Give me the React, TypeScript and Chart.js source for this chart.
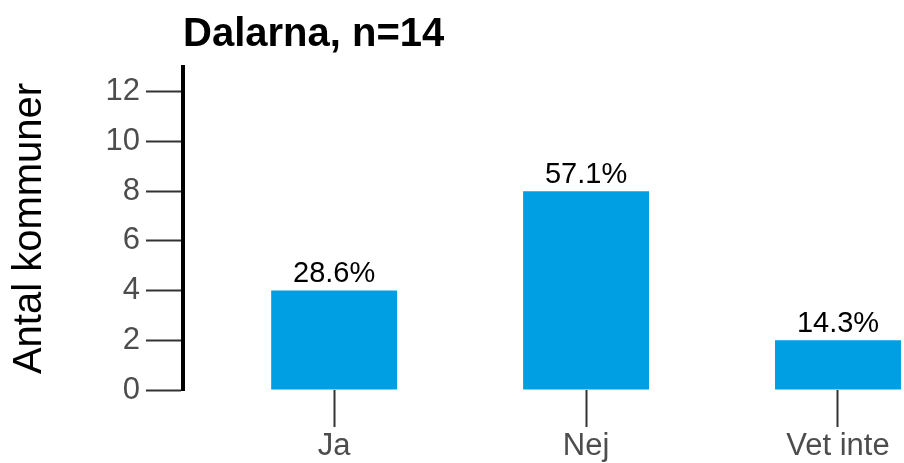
import React, { useEffect, useRef } from "react";
import { Chart, registerables } from "chart.js";

Chart.register(...registerables);

const categories: string[] = ["Ja", "Nej", "Vet inte"];
const counts: number[] = [4, 8, 2];
const total = 14;
const titleText = "Dalarna, n=14";
const yAxisTitle = "Antal kommuner";
const yTicks: number[] = [0, 2, 4, 6, 8, 10, 12];

const FONT = "'Liberation Sans', Arial, sans-serif";

export default function App() {
  const ref = useRef<HTMLCanvasElement | null>(null);

  useEffect(() => {
    if (!ref.current) return;
    const valueLabels = {
      id: "valueLabels",
      afterDatasetsDraw(chart: any) {
        const ctx = chart.ctx;
        const meta = chart.getDatasetMeta(0);
        ctx.save();
        ctx.font = `29px ${FONT}`;
        ctx.fillStyle = "#000000";
        ctx.textAlign = "center";
        ctx.textBaseline = "bottom";
        meta.data.forEach((el: any, i: number) => {
          const pct = ((counts[i] / total) * 100).toFixed(1) + "%";
          ctx.fillText(pct, el.x, el.y - 2);
        });
        ctx.restore();
      },
    };

    const chart = new Chart(ref.current, {
      type: "bar",
      data: {
        datasets: [
          {
            data: counts.map((c, i) => ({ x: i, y: c })),
            backgroundColor: "#009FE3",
            borderWidth: 0,
            barPercentage: 0.5,
            categoryPercentage: 1,
          },
        ],
      },
      plugins: [valueLabels],
      options: {
        animation: false,
        responsive: true,
        maintainAspectRatio: false,
        layout: { padding: { left: 0, right: 0, top: 0, bottom: 0 } },
        plugins: {
          legend: { display: false },
          tooltip: { enabled: false },
          title: {
            display: true,
            text: titleText,
            align: "start",
            fullSize: false,
            color: "#000000",
            font: { family: FONT, size: 40, weight: "bold" },
            padding: { top: 11, bottom: 8 },
          },
        },
        scales: {
          x: {
            type: "linear",
            offset: false,
            min: -0.6,
            max: 2.262,
            border: { display: false },
            grid: {
              offset: false,
              drawOnChartArea: false,
              drawTicks: true,
              tickLength: 37,
              tickColor: "#333333",
              tickWidth: 2,
            },
            afterBuildTicks: (scale: any) => {
              scale.ticks = categories.map((_, i) => ({ value: i }));
            },
            afterFit: (scale: any) => {
              scale.height = 73;
            },
            ticks: {
              autoSkip: false,
              maxRotation: 0,
              padding: 1,
              color: "#4D4D4D",
              font: { family: FONT, size: 31 },
              callback: (v: any) => categories[Math.round(Number(v))] ?? "",
            },
          },
          y: {
            type: "linear",
            min: 0,
            max: 13,
            border: { display: true, color: "#000000", width: 4 },
            grid: {
              drawOnChartArea: false,
              drawTicks: true,
              tickLength: 37,
              tickColor: "#333333",
              tickWidth: 2,
            },
            afterBuildTicks: (scale: any) => {
              scale.ticks = yTicks.map((v) => ({ value: v }));
            },
            afterFit: (scale: any) => {
              scale.width = 183;
            },
            ticks: {
              padding: 6,
              color: "#4D4D4D",
              font: { family: FONT, size: 31 },
            },
            title: {
              display: true,
              text: yAxisTitle,
              color: "#000000",
              font: { family: FONT, size: 40 },
              padding: { top: 6, bottom: 0 },
            },
          },
        },
      },
    });
    return () => chart.destroy();
  }, []);

  return (
    <div style={{ position: "fixed", left: 0, top: 0, width: 904, height: 463, background: "#ffffff" }}>
      <canvas ref={ref} />
    </div>
  );
}
